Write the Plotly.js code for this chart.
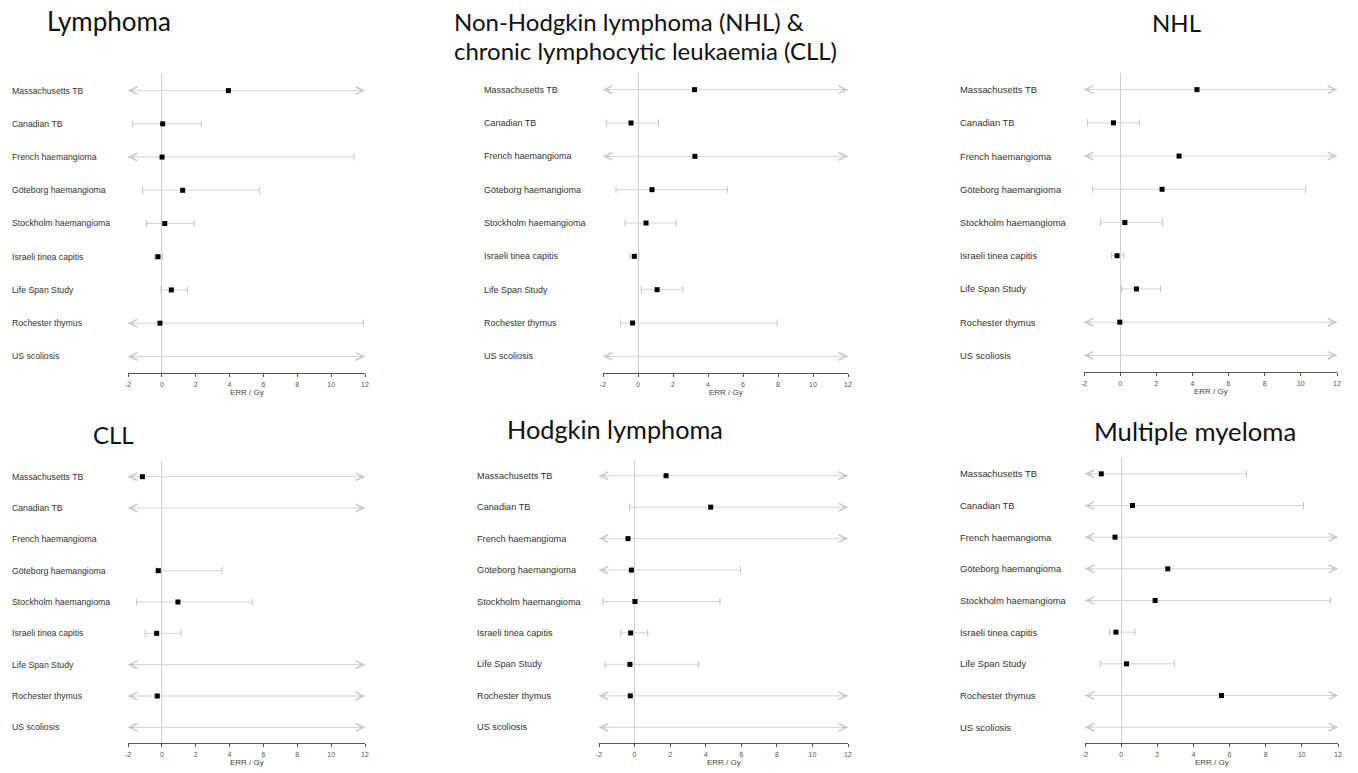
<!DOCTYPE html>
<html><head><meta charset="utf-8">
<script src="https://cdn.plot.ly/plotly-3.0.1.min.js"></script>
<style>html,body{margin:0;padding:0;background:#fff}#chart{width:1358px;height:773px}</style>
</head><body><div id="chart"></div>
<script>
// ---------- DATA ----------
const studies = ['Massachusetts TB', 'Canadian TB', 'French haemangioma', 'Göteborg haemangioma',
  'Stockholm haemangioma', 'Israeli tinea capitis', 'Life Span Study', 'Rochester thymus', 'US scoliosis'];
const xTickValues = [-2, 0, 2, 4, 6, 8, 10, 12];
const xTickLabels = ['-2', '0', '2', '4', '6', '8', '10', '12'];
const axisTitle = 'ERR / Gy';
const panelTitles = ['Lymphoma', 'Non-Hodgkin lymphoma (NHL) &\nchronic lymphocytic leukaemia (CLL)', 'NHL',
  'CLL', 'Hodgkin lymphoma', 'Multiple myeloma'];
const INF = Infinity; // CI bound beyond the plotted range (drawn as an arrow)

const lymphomaEst = [3.93, 0.05, 0.01, 1.23, 0.17, -0.23, 0.56, -0.11, null];
const lymphomaLo  = [-INF, -1.72, -INF, -1.13, -0.90, -0.42, -0.05, -INF, -INF];
const lymphomaHi  = [INF, 2.33, 11.35, 5.76, 1.90, 0.05, 1.52, 11.9, INF];

const nhlCllEst = [3.23, -0.40, 3.25, 0.80, 0.46, -0.21, 1.09, -0.31, null];
const nhlCllLo  = [-INF, -1.81, -INF, -1.26, -0.74, -0.46, 0.19, -1.01, -INF];
const nhlCllHi  = [INF, 1.17, INF, 5.10, 2.18, 0.05, 2.56, 7.95, INF];

const nhlEst = [4.25, -0.37, 3.26, 2.32, 0.26, -0.17, 0.90, -0.02, null];
const nhlLo  = [-INF, -1.80, -INF, -1.53, -1.09, -0.48, 0.09, -INF, -INF];
const nhlHi  = [INF, 1.07, INF, 10.26, 2.34, 0.20, 2.23, INF, INF];

const cllEst = [-1.15, null, null, -0.21, 0.95, -0.31, null, -0.27, null];
const cllLo  = [-INF, -INF, null, -0.35, -1.49, -0.98, -INF, -INF, -INF];
const cllHi  = [INF, INF, null, 3.55, 5.34, 1.13, INF, INF, INF];

const hodgkinEst = [1.77, 4.28, -0.37, -0.18, 0.02, -0.22, -0.26, -0.24, null];
const hodgkinLo  = [-INF, -0.28, -INF, -INF, -1.77, -0.78, -1.66, -INF, -INF];
const hodgkinHi  = [INF, INF, INF, 5.96, 4.80, 0.74, 3.60, INF, INF];

const myelomaEst = [-1.10, 0.63, -0.34, 2.58, 1.88, -0.29, 0.30, 5.55, null];
const myelomaLo  = [-INF, -INF, -INF, -INF, -INF, -0.64, -1.15, -INF, -INF];
const myelomaHi  = [6.93, 10.09, INF, INF, 11.58, 0.76, 2.95, INF, INF];

// ---------- LAYOUT (pixels) ----------
const W = 1358, H = 773;
const panels = [
  {title: panelTitles[0], est: lymphomaEst, lo: lymphomaLo, hi: lymphomaHi,
   x0: 128, x1: 365, y0: 74, y1: 373, labelX: 10, labelSize: 8.7,
   titleX: 109, titleY: [21], titleAnchor: 'center', titleSize: 26},
  {title: panelTitles[1], est: nhlCllEst, lo: nhlCllLo, hi: nhlCllHi,
   x0: 603, x1: 848, y0: 73, y1: 373, labelX: 482, labelSize: 9.0,
   titleX: 452, titleY: [21, 51], titleAnchor: 'left', titleSize: 24},
  {title: panelTitles[2], est: nhlEst, lo: nhlLo, hi: nhlHi,
   x0: 1084, x1: 1337, y0: 73, y1: 372, labelX: 958, labelSize: 9.4,
   titleX: 1176, titleY: [22], titleAnchor: 'center', titleSize: 24},
  {title: panelTitles[3], est: cllEst, lo: cllLo, hi: cllHi,
   x0: 128, x1: 365, y0: 461, y1: 743, labelX: 10, labelSize: 8.7,
   titleX: 113, titleY: [434], titleAnchor: 'center', titleSize: 24},
  {title: panelTitles[4], est: hodgkinEst, lo: hodgkinLo, hi: hodgkinHi,
   x0: 599, x1: 848, y0: 460, y1: 743, labelX: 475, labelSize: 9.2,
   titleX: 615, titleY: [429], titleAnchor: 'center', titleSize: 25.3},
  {title: panelTitles[5], est: myelomaEst, lo: myelomaLo, hi: myelomaHi,
   x0: 1085, x1: 1338, y0: 458, y1: 743, labelX: 958, labelSize: 9.4,
   titleX: 1195, titleY: [431], titleAnchor: 'center', titleSize: 25.7}
];

const CI_COLOR = '#d4d4d4';
const AXIS_COLOR = '#555555';
const LABEL_FONT = 'Liberation Sans, Arial, sans-serif';
const TITLE_FONT = 'Lato, Calibri, sans-serif';
const xMin = xTickValues[0], xMax = xTickValues[xTickValues.length - 1];

const traces = [];
const annotations = [];
const layout = {
  width: W, height: H, margin: {l: 0, r: 0, t: 0, b: 0},
  paper_bgcolor: '#ffffff', plot_bgcolor: 'rgba(0,0,0,0)',
  showlegend: false, hovermode: false
};

panels.forEach((p, i) => {
  const n = i + 1;
  const xa = 'x' + (n > 1 ? n : ''), ya = 'y' + (n > 1 ? n : '');
  const xKey = 'xaxis' + (n > 1 ? n : ''), yKey = 'yaxis' + (n > 1 ? n : '');

  layout[xKey] = {
    domain: [p.x0 / W, p.x1 / W], anchor: ya, range: [xMin, xMax],
    tickmode: 'array', tickvals: xTickValues, ticktext: xTickLabels,
    ticks: 'outside', ticklen: 3, tickcolor: AXIS_COLOR, tickwidth: 1, ticklabelstandoff: 2,
    tickfont: {family: LABEL_FONT, size: 7, color: '#555'},
    showline: true, linecolor: AXIS_COLOR, linewidth: 1,
    showgrid: false, zeroline: true, zerolinecolor: '#d0d0d0', zerolinewidth: 1,
    fixedrange: true
  };
  layout[yKey] = {
    domain: [1 - p.y1 / H, 1 - p.y0 / H], anchor: xa,
    type: 'category', categoryorder: 'array', categoryarray: studies,
    range: [studies.length - 0.5, -0.5],
    showticklabels: false, showgrid: false, zeroline: false, showline: false, ticks: '',
    fixedrange: true
  };

  // CI segments
  const lx = [], ly = [], capX = [], capY = [];
  studies.forEach((s, k) => {
    const lo = p.lo[k], hi = p.hi[k];
    if (lo === null || hi === null) return;
    lx.push(Math.max(lo, xMin), Math.min(hi, xMax), null);
    ly.push(s, s, null);
    if (isFinite(lo)) { capX.push(lo); capY.push(s); }
    else annotations.push({xref: xa, yref: ya, x: xMin, y: s, ax: 8, ay: 0, axref: 'pixel', ayref: 'pixel',
      text: '', showarrow: true, arrowhead: 5, arrowsize: 1.5, arrowwidth: 1, arrowcolor: '#c8c8c8'});
    if (isFinite(hi)) { capX.push(hi); capY.push(s); }
    else annotations.push({xref: xa, yref: ya, x: xMax, y: s, ax: -8, ay: 0, axref: 'pixel', ayref: 'pixel',
      text: '', showarrow: true, arrowhead: 5, arrowsize: 1.5, arrowwidth: 1, arrowcolor: '#c8c8c8'});
  });
  traces.push({type: 'scatter', mode: 'lines', x: lx, y: ly, xaxis: xa, yaxis: ya,
    line: {color: CI_COLOR, width: 1}, connectgaps: false, cliponaxis: false, hoverinfo: 'skip'});
  traces.push({type: 'scatter', mode: 'markers', x: capX, y: capY, xaxis: xa, yaxis: ya,
    marker: {symbol: 'line-ns', size: 5, line: {color: '#c4c4c4', width: 1}}, cliponaxis: false, hoverinfo: 'skip'});

  // point estimates
  const px = [], py = [];
  studies.forEach((s, k) => { if (p.est[k] !== null) { px.push(p.est[k]); py.push(s); } });
  traces.push({type: 'scatter', mode: 'markers', x: px, y: py, xaxis: xa, yaxis: ya,
    marker: {symbol: 'square', size: 5, color: '#000000'}, cliponaxis: false, hoverinfo: 'skip'});

  // row labels
  studies.forEach(s => annotations.push({xref: 'paper', yref: ya, x: p.labelX / W, y: s,
    xanchor: 'left', yanchor: 'middle', showarrow: false, text: s,
    font: {family: LABEL_FONT, size: p.labelSize, color: '#333'}}));

  // axis title
  annotations.push({xref: xa + ' domain', yref: ya + ' domain', x: 0.5, y: 0, yshift: -19,
    xanchor: 'center', yanchor: 'middle', showarrow: false, text: axisTitle,
    font: {family: LABEL_FONT, size: 8, color: '#444'}});

  // panel title
  p.title.split('\n').forEach((line, j) => annotations.push({xref: 'paper', yref: 'paper',
    x: p.titleX / W, y: 1 - p.titleY[j] / H, xanchor: p.titleAnchor, yanchor: 'middle',
    showarrow: false, text: line, font: {family: TITLE_FONT, size: p.titleSize, color: '#111'}}));
});

layout.annotations = annotations;
Plotly.newPlot('chart', traces, layout, {staticPlot: true, displayModeBar: false});
</script>
</body></html>
